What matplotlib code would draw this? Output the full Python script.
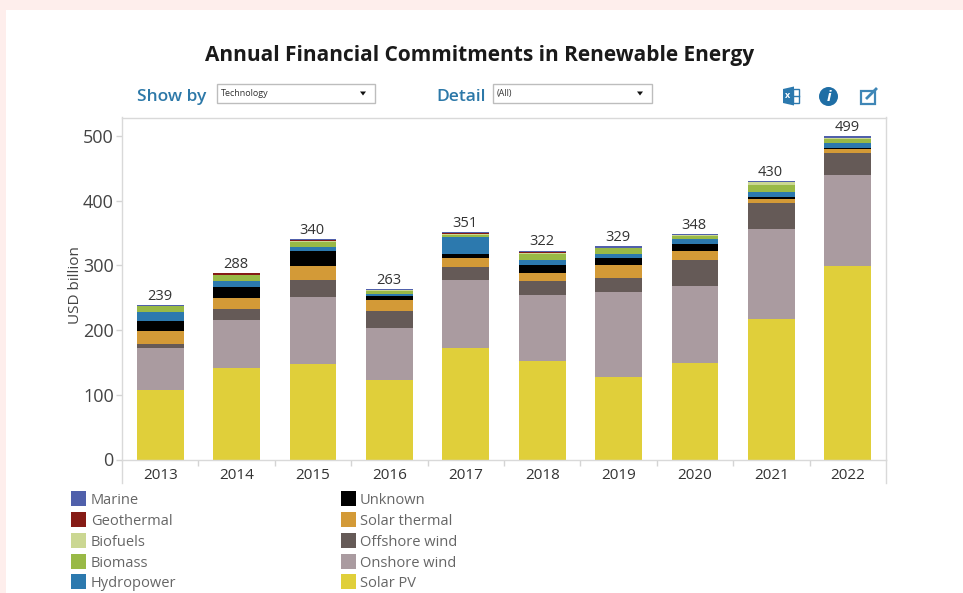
import matplotlib
matplotlib.use("Agg")
import matplotlib.pyplot as plt
from matplotlib.patches import Rectangle, Circle, Polygon
import numpy as np

plt.rcParams['font.family'] = ['Open Sans', 'DejaVu Sans']

years = ['2013','2014','2015','2016','2017','2018','2019','2020','2021','2022']
totals = [239,288,340,263,351,322,329,348,430,499]
solar_pv      = [107,142,147,123,172,153,127.5,148.5,217,299]
onshore_wind  = [65,73.6,104,80,105,101,131.5,120,140,140.7]
offshore_wind = [6,17.4,27,27,20.5,22,22,40,40,34]
solar_thermal = [20,16,21.5,16,14,13,19.6,14.4,6,6.3]
unknown       = [16,17.6,23,7,6.6,11.3,11.4,10.3,2.5,1.4]
hydropower    = [14,9.8,5.5,3,26,7.7,6,8,7.4,8.2]
biomass       = [8.5,8.3,8,5,3.5,9.7,9,4.4,11.4,5.4]
biofuels      = [0.5,0.9,1.2,0.5,1,1.6,0.5,1.5,4.6,2.4]
geothermal    = [0.5,1.9,2,0.2,1,2,0.1,0.1,0.1,0.1]
marine        = [1.5,1,1.5,1.5,1.5,1.5,2,1.5,1.5,2]

series = [('Solar PV',solar_pv,'#e0cf3a'),('Onshore wind',onshore_wind,'#aa9ba0'),
          ('Offshore wind',offshore_wind,'#655a57'),('Solar thermal',solar_thermal,'#d39a37'),
          ('Unknown',unknown,'#000000'),('Hydropower',hydropower,'#2c79ae'),
          ('Biomass',biomass,'#99b946'),('Biofuels',biofuels,'#cbd792'),
          ('Geothermal',geothermal,'#861b16'),('Marine',marine,'#5060ab')]
legend_col1 = ['Marine','Geothermal','Biofuels','Biomass','Hydropower']
legend_col2 = ['Unknown','Solar thermal','Offshore wind','Onshore wind','Solar PV']
colors = {n:c for n,_,c in series}

W,H = 963,593
fig = plt.figure(figsize=(W/100,H/100),dpi=100,facecolor='#feeeec')
def fx(p): return p/W
def fy(p): return 1-p/H
def rect(x0,y0,x1,y1,**kw):
    fig.add_artist(Rectangle((fx(x0),fy(y1)),(x1-x0)/W,(y1-y0)/H,transform=fig.transFigure,**kw))
rect(5.5,10,963,593,fc='white',ec='none',zorder=-5)

ax = fig.add_axes([fx(122),fy(459.5),(886-122)/W,(459.5-117.5)/H])
x = np.arange(len(years))
bottom = np.zeros(len(years))
for name,vals,c in series:
    ax.bar(x,vals,0.61,bottom=bottom,color=c,linewidth=0)
    bottom += np.array(vals)
for xi,b,t in zip(x,bottom,totals):
    ax.text(xi-0.01,b+2,str(t),ha='center',va='bottom',fontsize=10.5,color='#333333')
ax.set_xlim(-0.5,9.5); ax.set_ylim(0,528.6)
ax.set_yticks([0,100,200,300,400,500])
ax.set_yticklabels(['0','100','200','300','400','500'],fontsize=13,color='#444444')
ax.set_xticks(x); ax.set_xticklabels(years,fontsize=11,color='#333333')
ax.tick_params(axis='x',length=0,pad=6)
ax.tick_params(axis='y',length=4,color='#d4d4d4',width=1,pad=2)
ax.set_xticks(np.arange(0.5,9.5,1),minor=True)
ax.tick_params(axis='x',which='minor',length=4,color='#d4d4d4',width=1)
for s in ax.spines.values():
    s.set_color('#d9d9d9'); s.set_linewidth(1)
ax.set_ylabel('USD billion',fontsize=11,color='#444444')
ax.yaxis.set_label_coords((83-122)/(886-122),(459.5-285)/342)
for px in (122,886):
    fig.add_artist(plt.Line2D([fx(px)]*2,[fy(459.5),fy(483)],color='#d9d9d9',lw=1))

fig.text(fx(480),fy(55.5),'Annual Financial Commitments in Renewable Energy',ha='center',va='center',
         fontsize=15,fontweight='bold',color='#1a1a1a')
fig.text(fx(137),fy(97),'Show by',ha='left',va='center',fontsize=12.5,fontweight='semibold',color='#2c78a8')
fig.text(fx(436),fy(97),'Detail',ha='left',va='center',fontsize=12.5,fontweight='semibold',color='#2c78a8')
for x0,x1,label in [(217,375,'Technology'),(493,652,'(All)')]:
    rect(x0,84.5,x1,103.5,fc='white',ec='#bdbdbd',lw=1)
    fig.text(fx(x0+4),fy(93.5),label,ha='left',va='center',fontsize=6.5,color='#333333')
    fig.add_artist(Polygon([(fx(x1-15),fy(91.5)),(fx(x1-9),fy(91.5)),(fx(x1-12),fy(95.5))],
                           transform=fig.transFigure,fc='#111111',ec='none'))

# toolbar icons
rect(793,89,799,103,fc='white',ec='#2c79ae',lw=1)
fig.add_artist(Polygon([(fx(783),fy(89)),(fx(794),fy(86.5)),(fx(794),fy(105.5)),(fx(783),fy(103))],
                       transform=fig.transFigure,fc='#2c79ae',ec='none'))
fig.text(fx(788),fy(96),'x',ha='center',va='center',fontsize=6.5,color='white',fontweight='bold')
fig.add_artist(plt.Line2D([fx(793),fx(799)],[fy(96)]*2,color='#2c79ae',lw=1))
iax = fig.add_axes([fx(819),fy(106),19/W,19/H]); iax.axis('off'); iax.set_xlim(-1,1); iax.set_ylim(-1,1)
iax.add_patch(Circle((0,0),1,fc='#1f6ea5',ec='none'))
iax.text(0,-0.03,'i',ha='center',va='center',fontsize=11,fontstyle='italic',fontweight='bold',color='white')
rect(861,91,875,104,fc='white',ec='#3f86b6',lw=1.6)
fig.add_artist(plt.Line2D([fx(867),fx(876)],[fy(98),fy(89)],color='#3f86b6',lw=2))

# legend
rows = [500,521,542,563,583]
for col,sx,tx in [(legend_col1,71,91),(legend_col2,341,360)]:
    for name,yy in zip(col,rows):
        rect(sx,yy-9,sx+14.5,yy+5.5,fc=colors[name],ec='none')
        fig.text(fx(tx),fy(yy+0.5),name,ha='left',va='center',fontsize=10.5,color='#666666')

fig.savefig('out.png',dpi=100,facecolor=fig.get_facecolor())
